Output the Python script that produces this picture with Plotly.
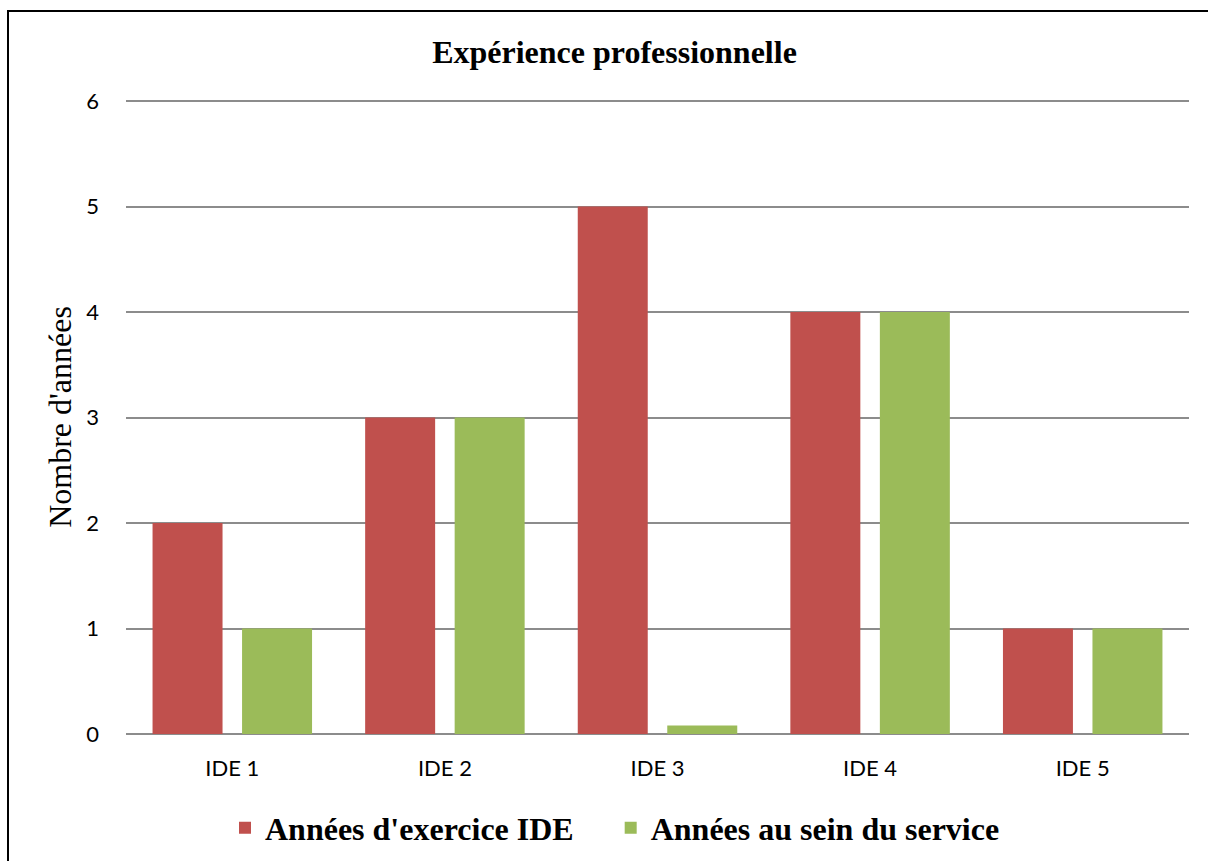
import plotly.graph_objects as go

categories = ["IDE 1", "IDE 2", "IDE 3", "IDE 4", "IDE 5"]
exercice_ide = [2, 3, 5, 4, 1]
sein_service = [1, 3, 0.08, 4, 1]
y_ticks = [0, 1, 2, 3, 4, 5, 6]

fig = go.Figure()
fig.add_trace(go.Bar(x=categories, y=exercice_ide,
                     name="<b>Années d'exercice IDE</b>" + "\u00a0" * 4,
                     marker=dict(color="#C0504D", line=dict(width=0))))
fig.add_trace(go.Bar(x=categories, y=sein_service, name="<b>Années au sein du service</b>",
                     marker=dict(color="#9BBB59", line=dict(width=0))))

PL, PR, PT, PB = 126, 1189, 100, 734
W, H = 1208, 861

fig.update_layout(
    width=W, height=H,
    margin=dict(l=PL, r=W - PR, t=PT, b=H - PB, autoexpand=False),
    paper_bgcolor="white", plot_bgcolor="white",
    barmode="group", bargap=0.158, bargroupgap=0.218,
    title=dict(text="<b>Expérience professionnelle</b>", x=614.5 / W, xanchor="center",
               y=1 - 52 / H, yanchor="middle",
               font=dict(family="Liberation Serif", size=32, color="black")),
    xaxis=dict(tickfont=dict(family="Lato", size=22, color="black"),
               showgrid=False, showline=False, ticks="", ticklabelstandoff=19),
    yaxis=dict(range=[0, 6.01], tickvals=y_ticks, showgrid=True, gridcolor="#8C8C8C", gridwidth=2,
               zeroline=True, zerolinecolor="#8C8C8C", zerolinewidth=2,
               tickfont=dict(family="Lato", size=22, color="black"), ticks="",
               ticklabelstandoff=26,
               title=dict(text="Nombre d'années", font=dict(family="Liberation Serif", size=32, color="black"),
                          standoff=5)),
    legend=dict(orientation="h", x=(615 - PL) / (PR - PL), xanchor="center",
                y=(PB - 828) / (PB - PT), yanchor="middle",
                font=dict(family="Liberation Serif", size=32, color="black"),
                itemwidth=30, traceorder="normal"),
    showlegend=True,
)

fig.add_shape(type="rect", xref="paper", yref="paper",
              x0=(8 - PL) / (PR - PL), x1=1.2, y0=-0.4, y1=(PB - 11) / (PB - PT),
              line=dict(color="black", width=2), fillcolor="rgba(0,0,0,0)", layer="above")

fig.write_html("out.html", config={"displayModeBar": False},
               post_script="document.body.style.margin='0';document.body.style.overflow='hidden';")
